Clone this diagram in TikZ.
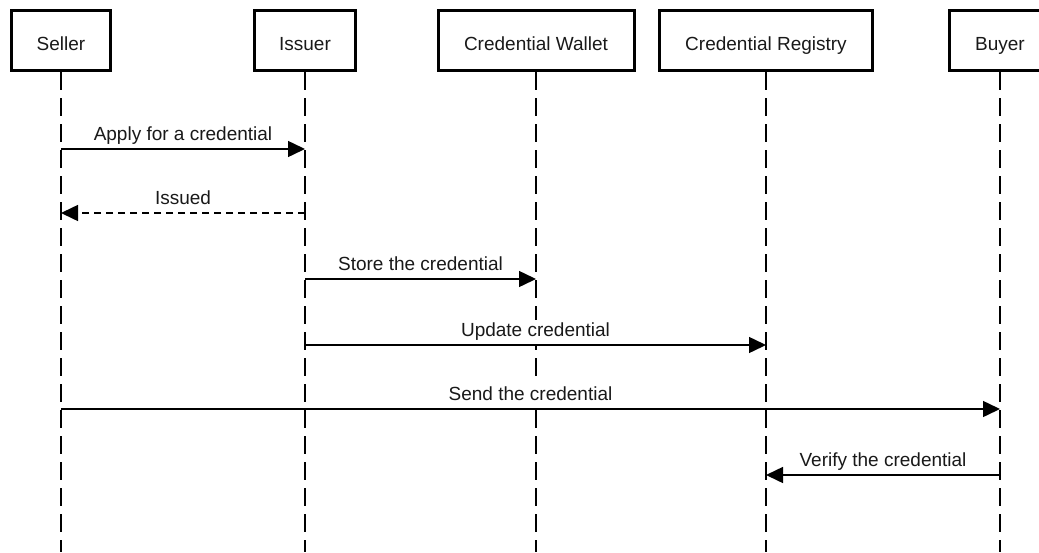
\documentclass[tikz,border=0pt]{standalone}
\usepackage{fontspec}
\setmainfont{Liberation Sans}
\usetikzlibrary{arrows.meta}

\begin{document}
\begin{tikzpicture}[x=1pt, y=-1pt,
		actor/.style={draw, line width=3pt, minimum height=60pt, text height=19pt, text depth=0pt, text=black!90, font=\fontsize{19}{23}\selectfont},
		lifeline/.style={line width=1.5pt, dash pattern=on 18pt off 8pt},
		msg/.style={line width=1.5pt, -{Triangle[length=17pt, width=16pt]}},
		reply/.style={msg, dash pattern=on 7pt off 5pt},
		lbl/.style={midway, anchor=base, yshift=9pt, fill=white, inner sep=1pt, text height=15pt, text depth=7pt, text=black!90, font=\fontsize{19}{23}\selectfont}]
		\useasboundingbox (0,0) rectangle (1039,552);
		\node[actor, minimum width=99pt] (seller) at (61,40.5) {Seller};
		\node[actor, minimum width=101pt] (issuer) at (305,40.5) {Issuer};
		\node[actor, minimum width=196pt] (wallet) at (536,40.5) {Credential Wallet};
		\node[actor, minimum width=213pt] (registry) at (766,40.5) {Credential Registry};
		\node[actor, minimum width=101pt] (buyer) at (1000,40.5) {Buyer};
		\coordinate (bottom) at (0,552);
		\foreach \n in {seller, issuer, wallet, registry, buyer}{
			\draw[lifeline] (\n.south) -- (\n.south |- bottom);
		}
		\coordinate (m1) at (0,149);
		\coordinate (m2) at (0,213);
		\coordinate (m3) at (0,279);
		\coordinate (m4) at (0,345);
		\coordinate (m5) at (0,409);
		\coordinate (m6) at (0,475);
		\draw[msg] (seller |- m1) -- node[lbl] {Apply for a credential} (issuer |- m1);
		\draw[reply] (issuer |- m2) -- node[lbl] {Issued} (seller |- m2);
		\draw[msg] (issuer |- m3) -- node[lbl] {Store the credential} (wallet |- m3);
		\draw[msg] (issuer |- m4) -- node[lbl] {Update credential} (registry |- m4);
		\draw[msg] (seller |- m5) -- node[lbl] {Send the credential} (buyer |- m5);
		\draw[msg] (buyer |- m6) -- node[lbl] {Verify the credential} (registry |- m6);
		\end{tikzpicture}
\end{document}
